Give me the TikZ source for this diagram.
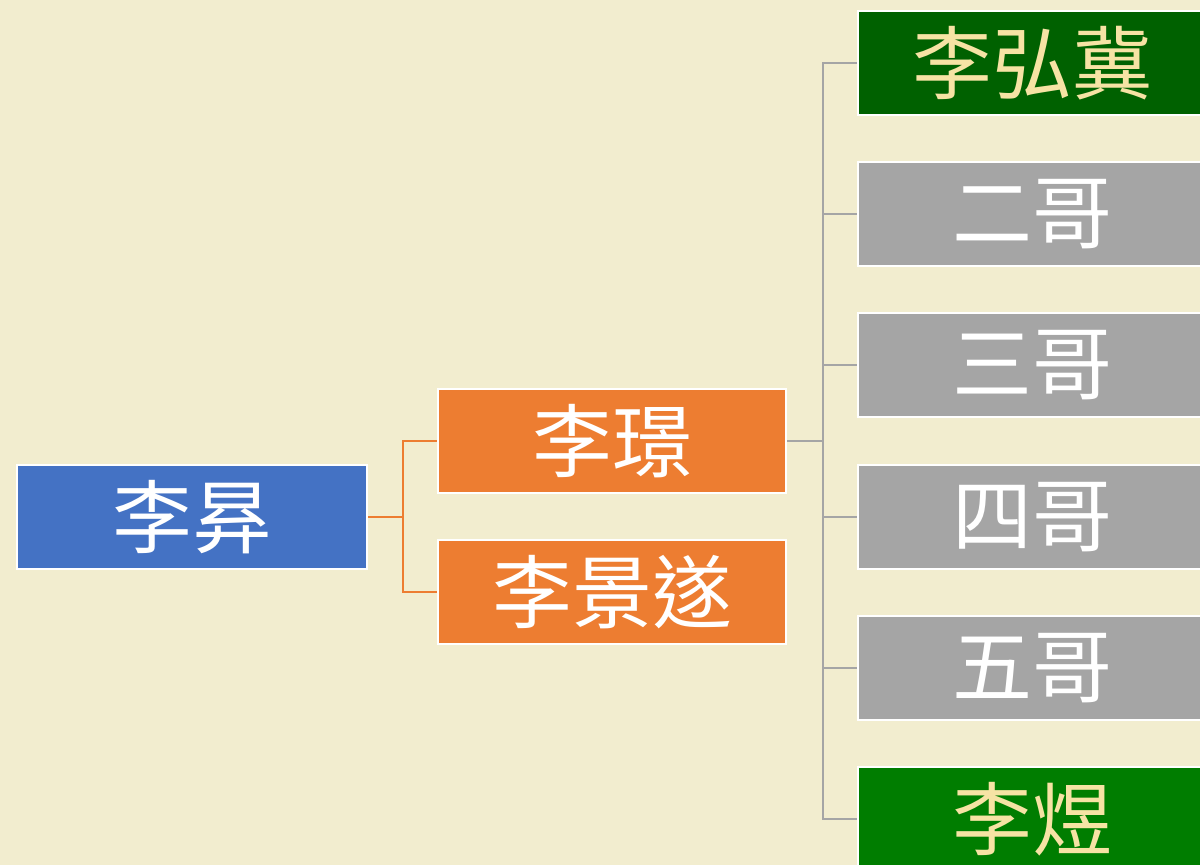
\documentclass[tikz,border=0pt]{standalone}
\usepackage{fontspec}
\newfontfamily\cjk{Noto Sans CJK TC}
\definecolor{paper}{HTML}{F2EDCF}
\definecolor{bblue}{HTML}{4472C4}
\definecolor{borange}{HTML}{ED7D31}
\definecolor{bgray}{HTML}{A5A5A5}
\definecolor{dgreen}{HTML}{006100}
\definecolor{mgreen}{HTML}{007D00}
\definecolor{paleyel}{HTML}{F6E3A4}
\begin{document}
\begin{tikzpicture}[x=1pt,y=-1pt,
  box/.style={draw=white, line width=2pt, inner sep=0pt, minimum width=348pt, minimum height=104pt,
    font=\cjk\fontsize{80}{80}\selectfont, text=white},
  orangeline/.style={draw=borange, line width=2.5pt},
  grayline/.style={draw=bgray, line width=2.5pt}]
\fill[paper] (0,0) rectangle (1200,865);
\useasboundingbox (0,0) rectangle (1200,865);
\node[box, fill=bblue, minimum width=350pt] (root) at (192,517) {李昪};
\node[box, fill=borange] (a) at (612,441) {李璟};
\node[box, fill=borange] (b) at (612,592) {李景遂};
\node[box, fill=dgreen, text=paleyel] (r1) at (1032,63) {李弘冀};
\node[box, fill=bgray] (r2) at (1032,214) {二哥};
\node[box, fill=bgray] (r3) at (1032,365) {三哥};
\node[box, fill=bgray] (r4) at (1032,517) {四哥};
\node[box, fill=bgray] (r5) at (1032,668) {五哥};
\node[box, fill=mgreen, text=paleyel] (r6) at (1032,819) {李煜};
\coordinate (j1) at ([xshift=35pt]root.east);
\coordinate (j2) at ([xshift=36pt]a.east);
\draw[orangeline] (root.east) -- (j1) |- (a.west);
\draw[orangeline] (j1) |- (b.west);
\foreach \n in {r1,r2,r3,r4,r5,r6} \draw[grayline] (a.east) -- (j2) |- (\n.west);
\end{tikzpicture}
\end{document}
